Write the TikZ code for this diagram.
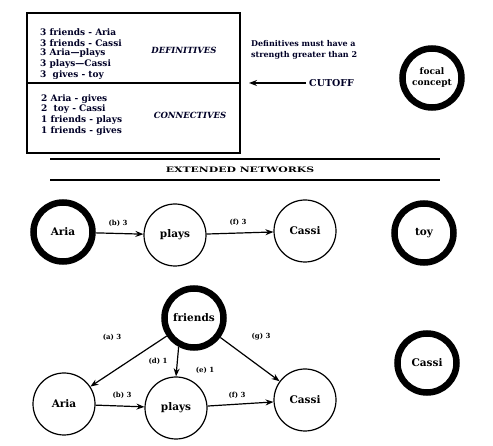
\documentclass[tikz,border=0pt]{standalone}
\usepackage{fontspec}
\setmainfont{DejaVu Serif}
\usepackage{graphicx}
\usetikzlibrary{arrows.meta}
\begin{document}
\begin{tikzpicture}[x=1pt,y=-1pt,
  thicknode/.style={circle,draw=black,line width=6.5pt,minimum size=59pt,inner sep=0pt,font=\fontsize{10.5}{12}\selectfont\bfseries},
  thinnode/.style={circle,draw=black,line width=1.2pt,minimum size=62pt,inner sep=0pt,font=\fontsize{10.5}{12}\selectfont\bfseries},
  arr/.style={line width=1.2pt,-{Stealth[length=8pt,width=6pt]}},
  elab/.style={font=\fontsize{7}{8}\selectfont\bfseries,inner sep=0pt},
  listtxt/.style={anchor=west,inner sep=0pt,font=\fontsize{9}{10}\selectfont\bfseries,text=black!85!blue},
  headtxt/.style={font=\fontsize{8.5}{10}\selectfont\bfseries\itshape,inner sep=0pt,text=black!85!blue}]
\useasboundingbox (0,0) rectangle (493,446);
% table box
\draw[line width=1.5pt] (27,13) rectangle (240,153);
\draw[line width=1.5pt] (27,83) -- (240,83);
\node[listtxt] (d1) at (40,32) {3 friends - Aria};
\node[listtxt] (d2) at (40,43) {3 friends - Cassi};
\node[listtxt] (d3) at (40,53.5) {3 Aria—plays};
\node[listtxt] (d4) at (40,64) {3 plays—Cassi};
\node[listtxt] (d5) at (40,75) {3\ \ gives - toy};
\node[listtxt] (c1) at (41,99) {2 Aria - gives};
\node[listtxt] (c2) at (41,109.5) {2\ \ toy - Cassi};
\node[listtxt] (c3) at (41,120) {1 friends - plays};
\node[listtxt] (c4) at (41,131) {1 friends - gives};
\node[headtxt] (def) at (184,50) {DEFINITIVES};
\node[headtxt] (con) at (190,115) {CONNECTIVES};
% rule text and cutoff
\node[anchor=west,inner sep=0pt,align=left,font=\fontsize{8}{11}\selectfont\bfseries,text=black!85!blue] (rule) at (251,50) {Definitives must have a\\strength greater than 2};
\node[anchor=west,inner sep=3pt,font=\fontsize{9.5}{11}\selectfont\bfseries,text=black!85!blue] (cut) at (306,83) {CUTOFF};
\coordinate (cutend) at (249,83);
\draw[arr,line width=1.5pt] (cut.west) -- (cutend);
% focal concept
\node[thicknode,align=center,font=\fontsize{9}{11}\selectfont\bfseries] (focal) at (432,78) {focal\\concept};
% extended networks header
\draw[line width=1.5pt] (50,159) -- (440,159);
\draw[line width=1.5pt] (50,180) -- (440,180);
\node[inner sep=0pt,font=\fontsize{7.5}{9}\selectfont\bfseries] (title) at (240,170) {\scalebox{1.45}[1]{EXTENDED NETWORKS}};
% row 1
\node[thicknode] (A1) at (63,232) {Aria};
\node[thinnode] (P1) at (175,235) {plays};
\node[thinnode] (C1) at (305,231) {Cassi};
\node[thicknode] (T1) at (424,233) {toy};
\draw[arr] (A1) -- (P1);
\draw[arr] (P1) -- (C1);
\node[elab] (lb1) at (118,223) {(b) 3};
\node[elab] (lf1) at (238,222) {(f) 3};
% row 2
\node[thicknode] (F2) at (194,318) {friends};
\node[thinnode] (A2) at (64,404) {Aria};
\node[thinnode] (P2) at (176,408) {plays};
\node[thinnode] (C2) at (305,400) {Cassi};
\node[thicknode] (CR) at (427,363) {Cassi};
\draw[arr] (F2) -- (A2);
\draw[arr] (F2.242) -- (P2.north);
\draw[arr] (F2) -- (C2);
\draw[arr] (A2) -- (P2);
\draw[arr] (P2) -- (C2);
\node[elab] (la2) at (112,337) {(a) 3};
\node[elab] (lg2) at (261,337) {(g) 3};
\node[elab] (ld2) at (158,361) {(d) 1};
\node[elab] (le2) at (205,370) {(e) 1};
\node[elab] (lb2) at (122,395) {(b) 3};
\node[elab] (lf2) at (237,395) {(f) 3};
\end{tikzpicture}
\end{document}
